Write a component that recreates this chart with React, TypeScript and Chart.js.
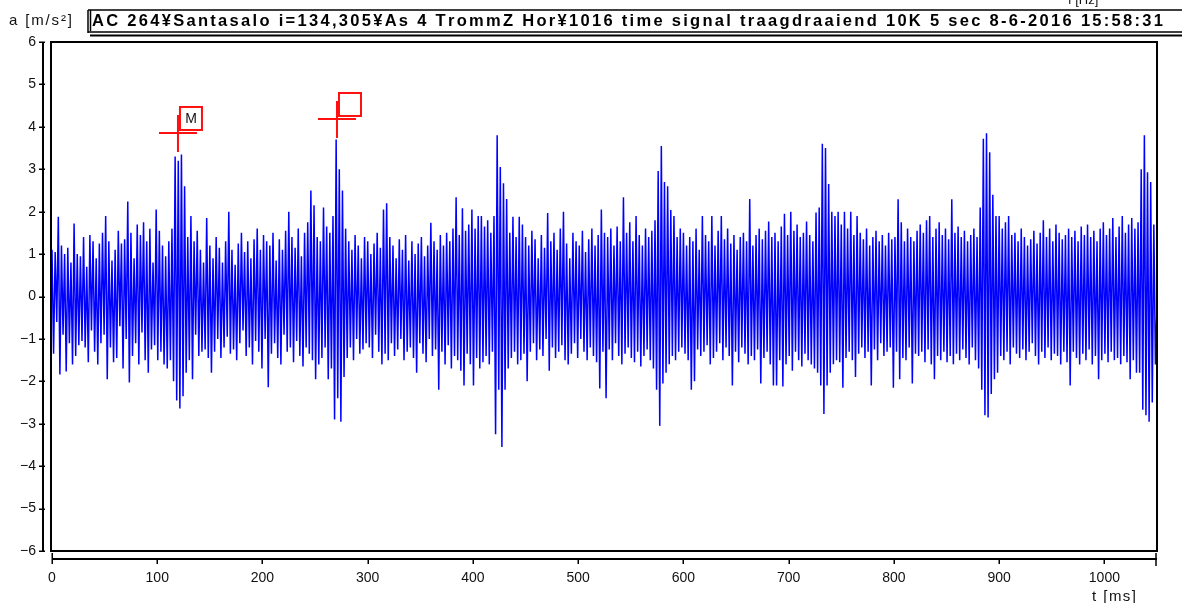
import React, { useEffect, useRef } from 'react';
import { Chart, registerables } from 'chart.js';

Chart.register(...registerables);

// sampling interval of the plotted points [ms]
const DT = 1.5;

// acceleration values [m/s²], in 150 ms segments
const segA = [
  1.1, -1.35, 1.05, -0.6, 1.88, -1.84, 1.2, -0.9, 1.0, -1.77,
  1.15, -1.1, 0.8, -1.6, 1.72, -1.4, 1.0, -1.15, 0.95, -1.05,
  1.4, -1.2, 0.7, -1.55, 1.45, -0.8, 1.3, -1.3, 0.9, -1.6,
  1.25, -1.1, 1.5, -0.9, 1.9, -1.95, 1.3, -1.2, 0.85, -1.55,
  1.1, -1.45, 1.55, -0.7, 1.25, -1.7, 1.35, -1.0, 2.24, -2.03,
  1.5, -1.4, 0.9, -1.1, 1.7, -1.6, 1.45, -0.85, 1.75, -1.5,
  1.3, -1.8, 1.6, -1.25, 0.8, -1.15, 2.05, -1.5, 1.55, -1.3,
  1.2, -1.6, 0.95, -1.7, 1.3, -1.5, 1.6, -2.0, 3.3, -2.45,
  3.2, -2.64, 3.35, -2.35, 2.6, -1.8, 1.4, -1.5, 1.9, -1.95,
  1.3, -0.9, 1.55, -1.4, 1.1, -1.3, 0.8, -1.25, 1.85, -1.45,
];
const segB = [
  1.2, -1.8, 0.9, -1.3, 1.4, -1.0, 1.15, -1.45, 0.8, -1.2,
  1.3, -0.95, 2.0, -1.35, 1.1, -1.25, 0.75, -1.5, 1.25, -1.1,
  1.5, -0.8, 1.05, -1.4, 1.3, -1.2, 0.9, -1.6, 1.35, -1.05,
  1.6, -1.3, 1.1, -1.7, 1.45, -1.0, 1.3, -2.14, 1.2, -1.35,
  1.5, -1.1, 0.85, -1.45, 1.35, -1.6, 1.1, -0.9, 1.55, -1.3,
  2.0, -1.2, 1.4, -1.55, 1.15, -1.05, 1.6, -1.4, 0.95, -1.65,
  1.5, -1.2, 1.75, -1.35, 2.5, -1.5, 2.15, -1.95, 1.4, -1.6,
  1.3, -1.45, 2.1, -1.2, 1.65, -1.95, 1.5, -1.7, 1.9, -2.9,
  3.7, -2.4, 3.0, -2.95, 2.5, -1.9, 1.6, -1.45, 1.3, -1.2,
  1.1, -1.5, 1.45, -1.0, 1.2, -1.35, 0.9, -1.25, 1.4, -1.1,
];
const segC = [
  1.3, -1.2, 1.0, -1.45, 1.25, -0.9, 1.5, -1.3, 1.15, -1.6,
  2.05, -1.35, 2.2, -1.5, 1.4, -1.1, 1.2, -1.4, 0.9, -1.25,
  1.35, -1.0, 1.1, -1.5, 1.45, -1.3, 0.85, -1.2, 1.3, -1.45,
  1.0, -1.8, 1.25, -1.1, 1.4, -1.35, 0.95, -1.55, 1.2, -1.0,
  1.74, -1.4, 1.3, -1.25, 1.1, -2.2, 1.45, -1.3, 1.2, -1.6,
  1.5, -1.15, 1.3, -1.7, 1.6, -1.4, 2.34, -1.5, 1.45, -1.75,
  2.08, -2.1, 1.55, -1.35, 1.7, -1.6, 2.05, -2.1, 1.6, -1.45,
  1.9, -1.7, 1.9, -1.55, 1.65, -1.4, 1.8, -1.6, 1.5, -1.3,
  1.9, -3.25, 3.8, -2.2, 3.05, -3.55, 2.67, -2.2, 2.3, -1.7,
  1.5, -1.45, 1.88, -1.3, 1.4, -1.6, 1.88, -1.5, 1.7, -1.35,
];
const segD = [
  1.4, -2.0, 1.2, -1.3, 1.55, -1.1, 1.35, -1.5, 0.9, -1.25,
  1.45, -1.4, 1.15, -1.0, 1.97, -1.75, 1.3, -1.2, 1.5, -1.45,
  1.1, -1.3, 1.6, -1.15, 2.0, -1.5, 1.25, -1.6, 0.9, -1.35,
  1.5, -1.1, 1.3, -1.45, 1.2, -1.0, 1.55, -1.3, 1.05, -1.5,
  1.35, -1.2, 1.6, -1.4, 1.2, -1.55, 1.45, -2.17, 2.05, -1.3,
  1.5, -2.4, 1.4, -1.25, 1.6, -1.5, 1.2, -1.1, 1.65, -1.4,
  1.3, -1.6, 2.34, -1.35, 1.5, -1.2, 1.75, -1.45, 1.3, -1.55,
  1.9, -1.3, 1.45, -1.65, 1.2, -1.4, 1.6, -1.25, 1.4, -1.5,
  1.55, -1.7, 1.8, -2.2, 2.96, -3.05, 3.55, -2.05, 2.7, -1.8,
  2.6, -1.6, 2.04, -1.4, 1.9, -1.5, 1.4, -1.3, 1.6, -1.2,
];
const segE = [
  1.5, -1.35, 1.2, -1.5, 1.4, -2.2, 1.3, -2.0, 1.6, -1.25,
  1.1, -1.4, 1.9, -1.3, 1.45, -1.15, 1.3, -1.6, 1.9, -1.45,
  1.2, -1.3, 1.55, -1.1, 1.9, -1.5, 1.35, -1.2, 1.6, -1.4,
  1.25, -2.1, 1.45, -1.3, 1.1, -1.55, 1.4, -1.2, 1.5, -1.35,
  1.3, -1.6, 2.3, -1.4, 1.2, -1.5, 1.45, -1.25, 1.6, -2.05,
  1.35, -1.45, 1.55, -1.3, 1.77, -1.6, 1.4, -2.1, 1.5, -2.1,
  1.3, -1.5, 1.65, -2.12, 1.95, -1.6, 1.45, -1.4, 2.0, -1.75,
  1.55, -1.3, 1.7, -1.5, 1.4, -1.65, 1.5, -1.35, 1.77, -1.5,
  1.45, -1.6, 1.3, -1.7, 1.98, -1.8, 2.1, -2.1, 3.6, -2.77,
  3.5, -2.1, 2.65, -1.8, 2.0, -1.6, 1.9, -1.5, 2.0, -1.55,
];
const segF = [
  1.7, -2.15, 2.0, -1.45, 1.6, -1.3, 2.0, -1.5, 1.45, -1.9,
  1.9, -1.35, 1.5, -1.2, 1.35, -1.45, 1.6, -1.3, 1.2, -2.1,
  1.4, -1.25, 1.55, -1.5, 1.3, -1.1, 1.45, -1.4, 1.2, -1.3,
  1.5, -1.2, 1.35, -2.15, 1.4, -1.3, 2.29, -1.95, 1.75, -1.45,
  1.3, -1.5, 1.6, -1.2, 1.4, -2.05, 1.3, -1.35, 1.55, -1.4,
  1.7, -1.3, 1.5, -1.55, 1.8, -1.25, 1.9, -1.6, 1.4, -1.95,
  1.6, -1.4, 1.75, -1.5, 1.45, -1.3, 1.6, -1.55, 1.35, -1.4,
  2.29, -1.6, 1.5, -1.35, 1.65, -1.5, 1.4, -1.25, 1.55, -1.45,
  1.3, -1.6, 1.45, -1.2, 1.6, -1.5, 1.4, -1.7, 2.1, -2.2,
  3.72, -2.8, 3.85, -2.85, 3.4, -2.3, 2.4, -1.95, 1.9, -1.8,
];
const segG = [
  1.9, -1.4, 1.6, -1.5, 1.75, -1.3, 1.9, -1.6, 1.45, -1.2,
  1.5, -1.35, 1.3, -1.45, 1.6, -1.25, 1.4, -1.5, 1.2, -1.3,
  1.35, -1.1, 1.55, -1.4, 1.25, -1.6, 1.5, -1.3, 1.8, -1.45,
  1.4, -1.2, 1.6, -1.5, 1.3, -1.35, 1.7, -1.4, 1.5, -1.6,
  1.35, -1.3, 1.45, -1.55, 1.6, -2.1, 1.4, -1.3, 1.55, -1.45,
  1.3, -1.6, 1.65, -1.35, 1.45, -1.5, 1.7, -1.25, 1.4, -1.6,
  1.55, -1.4, 1.3, -1.95, 1.6, -1.5, 1.75, -1.35, 1.45, -1.55,
  1.6, -1.3, 1.85, -1.5, 1.4, -1.45, 1.65, -1.6, 1.9, -1.4,
  1.5, -1.55, 1.7, -1.95, 1.85, -1.5, 1.6, -1.8, 1.75, -1.8,
  3.0, -2.67, 3.8, -2.8, 2.93, -2.95, 2.7, -2.5, 1.7, -1.6,
  -0.25,
];

const signal = [...segA, ...segB, ...segC, ...segD, ...segE, ...segF, ...segG];

const xTicks = [0, 100, 200, 300, 400, 500, 600, 700, 800, 900, 1000];
const yTicks = [-6, -5, -4, -3, -2, -1, 0, 1, 2, 3, 4, 5, 6];
const X_MIN = 0;
const X_MAX = 1050;
const Y_MIN = -6;
const Y_MAX = 6;

// cursor markers
const markerT = [119.7, 270.8];
const markerA = [3.855, 4.185];
const markerLabels = ['M', ''];

const titleText =
  'AC 264¥Santasalo i=134,305¥As 4 TrommZ Hor¥1016 time signal traagdraaiend 10K 5 sec 8-6-2016 15:58:31';
const yUnit = 'a [m/s²]';
const xUnit = 't [ms]';
const topRightUnit = 'f [Hz]';

const FONT = "'Liberation Sans', Arial, sans-serif";

function spacedText(ctx: CanvasRenderingContext2D, text: string, x0: number, x1: number, y: number) {
  const chars = Array.from(text);
  const widths = chars.map((c) => ctx.measureText(c).width);
  const natural = widths.reduce((a, b) => a + b, 0);
  const extra = (x1 - x0 - natural) / (chars.length - 1);
  let x = x0;
  ctx.textAlign = 'left';
  chars.forEach((c, i) => {
    ctx.fillText(c, x, y);
    x += widths[i] + extra;
  });
}

const decorPlugin = {
  id: 'decor',
  afterDatasetsDraw(chart: any) {
    const ctx = chart.ctx as CanvasRenderingContext2D;
    const xs = chart.scales.x;
    const ys = chart.scales.y;
    const area = chart.chartArea;
    ctx.save();

    // markers
    ctx.strokeStyle = '#ff1010';
    ctx.lineWidth = 2;
    for (let i = 0; i < markerT.length; i++) {
      const px = xs.getPixelForValue(markerT[i]);
      const py = ys.getPixelForValue(markerA[i]);
      ctx.beginPath();
      ctx.moveTo(px - 19, py);
      ctx.lineTo(px + 19, py);
      ctx.moveTo(px, py - 18);
      ctx.lineTo(px, py + 19);
      ctx.stroke();
      ctx.strokeRect(px + 2, py - 26, 22, 23);
      if (markerLabels[i]) {
        ctx.fillStyle = '#111';
        ctx.font = `14px ${FONT}`;
        ctx.textAlign = 'center';
        ctx.textBaseline = 'middle';
        ctx.fillText(markerLabels[i], px + 13, py - 13.5);
      }
    }

    // frame
    ctx.strokeStyle = '#000';
    ctx.lineWidth = 2;
    ctx.strokeRect(area.left - 1, area.top, area.right - area.left + 1, area.bottom - area.top);

    // y axis line and ticks
    const yAxisX = area.left - 9;
    ctx.beginPath();
    ctx.moveTo(yAxisX, ys.getPixelForValue(Y_MAX));
    ctx.lineTo(yAxisX, ys.getPixelForValue(Y_MIN));
    ctx.stroke();
    ctx.lineWidth = 1.5;
    ctx.beginPath();
    for (const v of yTicks) {
      const py = Math.round(ys.getPixelForValue(v)) + 0.25;
      ctx.moveTo(yAxisX - 4, py);
      ctx.lineTo(yAxisX + 2, py);
    }
    ctx.stroke();

    // x axis line and ticks
    const xAxisY = area.bottom + 8;
    ctx.lineWidth = 2;
    ctx.beginPath();
    ctx.moveTo(xs.getPixelForValue(X_MIN), xAxisY);
    ctx.lineTo(xs.getPixelForValue(X_MAX), xAxisY);
    ctx.stroke();
    ctx.lineWidth = 1.5;
    ctx.beginPath();
    for (const v of xTicks) {
      const px = Math.round(xs.getPixelForValue(v)) + 0.25;
      ctx.moveTo(px, v === X_MIN ? xAxisY - 6 : xAxisY);
      ctx.lineTo(px, xAxisY + 5);
    }
    const pe = xs.getPixelForValue(X_MAX) - 1;
    ctx.moveTo(pe, xAxisY - 6);
    ctx.lineTo(pe, xAxisY + 7);
    ctx.stroke();

    // unit labels
    ctx.fillStyle = '#111';
    ctx.textBaseline = 'alphabetic';
    ctx.font = `15px ${FONT}`;
    spacedText(ctx, xUnit, 1092, 1136, 601);
    spacedText(ctx, yUnit, 9, 72, 25);
    ctx.font = `13px ${FONT}`;
    ctx.textAlign = 'left';
    ctx.fillText(topRightUnit, 1068, 4);

    // title box
    ctx.strokeStyle = '#000';
    ctx.lineWidth = 1.5;
    ctx.beginPath();
    ctx.moveTo(88, 10);
    ctx.lineTo(1182, 10);
    ctx.moveTo(88, 10);
    ctx.lineTo(88, 33);
    ctx.moveTo(90.5, 10);
    ctx.lineTo(90.5, 31);
    ctx.moveTo(88, 32);
    ctx.lineTo(1182, 32);
    ctx.stroke();
    ctx.lineWidth = 2;
    ctx.beginPath();
    ctx.moveTo(90, 35.5);
    ctx.lineTo(1182, 35.5);
    ctx.stroke();

    // title text
    ctx.fillStyle = '#000';
    ctx.font = `bold 16.5px ${FONT}`;
    ctx.textBaseline = 'middle';
    spacedText(ctx, titleText, 92, 1163, 21);

    ctx.restore();
  },
};

export default function App() {
  const ref = useRef<HTMLCanvasElement | null>(null);
  useEffect(() => {
    if (!ref.current) return;
    const chart = new Chart(ref.current, {
      type: 'line',
      data: {
        datasets: [
          {
            data: signal.map((v, i) => ({ x: i * DT, y: v })),
            borderColor: '#0000ff',
            borderWidth: 1.5,
            pointRadius: 0,
            tension: 0,
            fill: false,
          },
        ],
      },
      options: {
        responsive: false,
        animation: false,
        devicePixelRatio: 1,
        layout: { padding: { left: 0, right: 25, top: 42, bottom: 0 } },
        plugins: { legend: { display: false }, tooltip: { enabled: false } },
        scales: {
          x: {
            type: 'linear',
            min: X_MIN,
            max: X_MAX,
            afterFit: (s: any) => {
              s.height = 52;
            },
            afterBuildTicks: (s: any) => {
              s.ticks = xTicks.map((v) => ({ value: v }));
            },
            grid: { display: false, drawTicks: false },
            border: { display: false },
            ticks: {
              color: '#111',
              font: { family: FONT, size: 14 },
              padding: 19,
              maxRotation: 0,
              autoSkip: false,
              callback: (v: any) => String(v),
            },
          },
          y: {
            type: 'linear',
            min: Y_MIN,
            max: Y_MAX,
            afterFit: (s: any) => {
              s.width = 52;
            },
            afterBuildTicks: (s: any) => {
              s.ticks = yTicks.map((v) => ({ value: v }));
            },
            grid: { display: false, drawTicks: false },
            border: { display: false },
            ticks: {
              color: '#111',
              font: { family: FONT, size: 14 },
              padding: 16,
              autoSkip: false,
              callback: (v: any) => (Number(v) < 0 ? '\u2212' + Math.abs(Number(v)) : String(v)),
            },
          },
        },
      },
      plugins: [decorPlugin],
    });
    return () => chart.destroy();
  }, []);
  return (
    <div style={{ position: 'absolute', left: 0, top: 0, width: 1182, height: 603, background: '#fff' }}>
      <canvas ref={ref} width={1182} height={603} style={{ display: 'block', width: 1182, height: 603 }} />
    </div>
  );
}
